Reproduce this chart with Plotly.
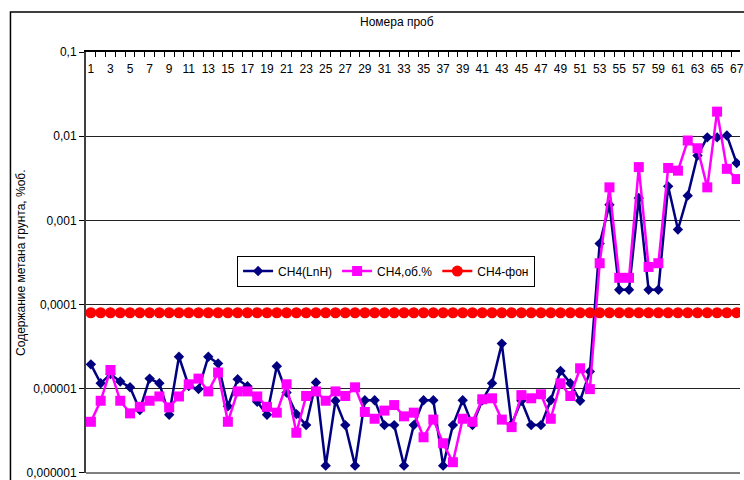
import plotly.graph_objects as go

# Sample numbers along the top axis
samples = list(range(1, 68))

# Methane content, % vol. (log scale)
ch4_lnh = [1.95e-5, 1.16e-5, 1.49e-5, 1.22e-5, 1.04e-5, 5.6e-6, 1.32e-5, 1.16e-5, 4.9e-6, 2.4e-5,
           1.08e-5, 9.9e-6, 2.4e-5, 2.0e-5, 6.2e-6, 1.3e-5, 1.07e-5, 7.0e-6, 4.9e-6, 1.85e-5,
           9.0e-6, 5.0e-6, 3.7e-6, 1.19e-5, 1.22e-6, 7.2e-6, 3.7e-6, 1.22e-6, 7.3e-6, 7.3e-6,
           3.7e-6, 3.7e-6, 1.22e-6, 3.7e-6, 7.3e-6, 7.3e-6, 1.22e-6, 3.7e-6, 7.3e-6, 3.7e-6,
           7.3e-6, 1.16e-5, 3.44e-5, 3.8e-6, 7.2e-6, 3.7e-6, 3.7e-6, 7.3e-6, 1.63e-5, 1.16e-5,
           7.2e-6, 1.6e-5, 5.3e-4, 1.54e-3, 1.5e-4, 1.5e-4, 1.85e-3, 1.5e-4, 1.5e-4, 2.54e-3,
           7.8e-4, 1.97e-3, 5.9e-3, 9.7e-3, 9.7e-3, 1.02e-2, 4.8e-3]

ch4_vol = [4.05e-6, 7.2e-6, 1.67e-5, 7.2e-6, 5.1e-6, 6.1e-6, 7.2e-6, 8.1e-6, 6.0e-6, 8.1e-6,
           1.13e-5, 1.32e-5, 9.3e-6, 1.56e-5, 4.05e-6, 9.3e-6, 9.3e-6, 8.1e-6, 6.1e-6, 5.2e-6,
           1.13e-5, 3.0e-6, 8.2e-6, 9.3e-6, 7.2e-6, 9.3e-6, 8.2e-6, 1.04e-5, 5.3e-6, 4.4e-6,
           5.5e-6, 6.4e-6, 4.7e-6, 5.2e-6, 2.65e-6, 4.3e-6, 2.25e-6, 1.34e-6, 4.4e-6, 4.05e-6,
           7.5e-6, 7.7e-6, 4.3e-6, 3.5e-6, 8.4e-6, 7.7e-6, 8.6e-6, 4.4e-6, 1.16e-5, 8.2e-6,
           1.75e-5, 9.9e-6, 3.1e-4, 2.47e-3, 2.08e-4, 2.08e-4, 4.3e-3, 2.8e-4, 3.1e-4, 4.2e-3,
           3.9e-3, 8.9e-3, 7.2e-3, 2.47e-3, 1.96e-2, 4.1e-3, 3.1e-3]

# Background level
ch4_bg = [0.00008] * len(samples)

# Y tick labels (comma decimal separator)
y_tickvals = [1e-6, 1e-5, 1e-4, 1e-3, 1e-2, 1e-1]
y_ticktext = ["0,000001", "0,00001", "0,0001", "0,001", "0,01", "0,1"]

x_tickvals = [s for s in samples if s % 2 == 1]
x_ticktext = [str(s) for s in x_tickvals]
x_boundaries = [s + 0.5 for s in samples]

FONT = "Liberation Sans, Arial, sans-serif"
W, H = 744, 480
ML, MR, MT, MB = 86, 0, 52, 6
PW, PH = W - ML - MR, H - MT - MB


def px_x(p):
    return (p - ML) / PW


def px_y(p):
    return (H - MB - p) / PH


fig = go.Figure()
fig.add_trace(go.Scatter(
    x=samples, y=ch4_lnh, name="CH4(LnH)", mode="lines+markers",
    line=dict(color="#000080", width=2.5),
    marker=dict(symbol="diamond", size=8, color="#000080"),
))
fig.add_trace(go.Scatter(
    x=samples, y=ch4_vol, name="CH4,об.%", mode="lines+markers",
    line=dict(color="#FF00FF", width=2.5),
    marker=dict(symbol="square", size=10, color="#FF00FF"),
))
fig.add_trace(go.Scatter(
    x=samples, y=ch4_bg, name="CH4-фон", mode="lines+markers",
    line=dict(color="#FF0000", width=2.5),
    marker=dict(symbol="circle", size=11, color="#FF0000"),
))

fig.update_layout(
    width=W, height=H,
    margin=dict(l=ML, r=MR, t=MT, b=MB, pad=0),
    paper_bgcolor="white", plot_bgcolor="white",
    font=dict(family=FONT, size=12, color="black"),
    showlegend=True,
    legend=dict(
        orientation="h", x=px_x(238), y=px_y(256), xanchor="left", yanchor="top",
        bordercolor="black", borderwidth=1, bgcolor="white",
        font=dict(family=FONT, size=12, color="black"),
        itemwidth=30, tracegroupgap=0,
    ),
    xaxis=dict(
        range=[0.5, 0.5 + PW / 9.844], side="top",
        tickmode="array", tickvals=x_tickvals, ticktext=x_ticktext,
        ticks="", ticklabelposition="inside", ticklabelstandoff=12,
        ticklabeloverflow="allow",
        tickfont=dict(family=FONT, size=12, color="black"),
        showline=True, linecolor="black", linewidth=2,
        showgrid=False, zeroline=False,
        minor=dict(tickmode="array", tickvals=x_boundaries, ticks="inside",
                   ticklen=5, tickcolor="black", tickwidth=1, showgrid=False),
    ),
    yaxis=dict(
        type="log", range=[-6.001, -0.999],
        tickmode="array", tickvals=y_tickvals, ticktext=y_ticktext,
        ticks="outside", ticklen=5, tickcolor="black",
        ticklabeloverflow="allow",
        tickfont=dict(family=FONT, size=12, color="black"),
        showline=True, linecolor="#404040", linewidth=2,
        showgrid=True, gridcolor="#222222", gridwidth=1,
        zeroline=False,
    ),
    annotations=[
        dict(text="Номера проб", xref="paper", yref="paper",
             x=px_x(399), y=px_y(22), xanchor="center", yanchor="middle",
             showarrow=False, font=dict(family=FONT, size=12, color="black")),
        dict(text="Содержание метана грунта, %об.", xref="paper", yref="paper",
             x=px_x(20), y=0.5, xanchor="center", yanchor="middle", textangle=-90,
             showarrow=False, font=dict(family=FONT, size=12, color="black")),
    ],
    shapes=[
        # outer chart frame
        dict(type="rect", xref="paper", yref="paper",
             x0=px_x(10), x1=px_x(W + 40), y0=px_y(H + 40), y1=px_y(12),
             line=dict(color="black", width=1.5), fillcolor="rgba(0,0,0,0)", layer="below"),
        # plot-area bottom edge
        dict(type="line", xref="paper", yref="paper", x0=0, x1=1, y0=0, y1=0,
             line=dict(color="#808080", width=2), layer="above"),
    ],
)

fig.write_html("out.html")
